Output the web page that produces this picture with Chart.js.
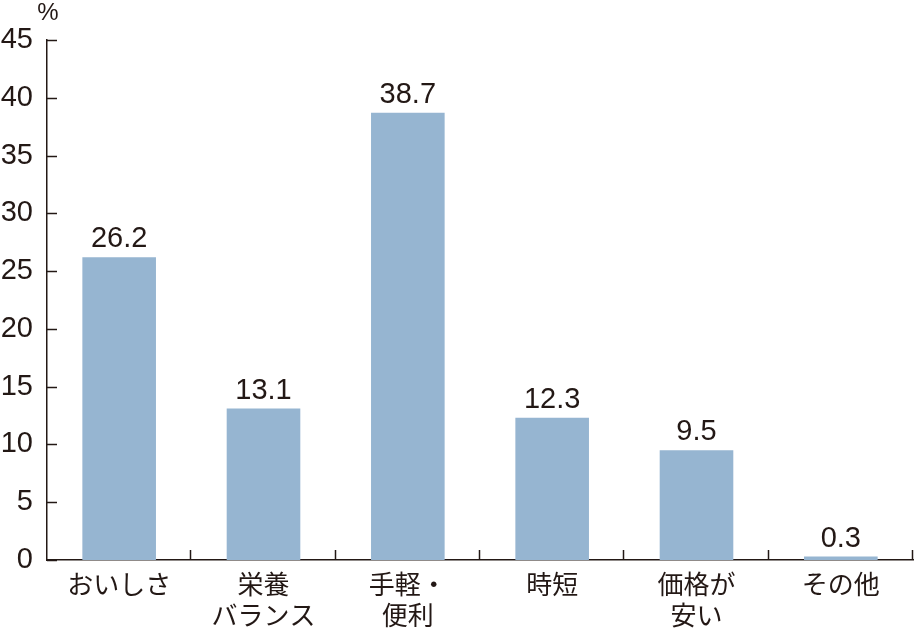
<!DOCTYPE html>
<html>
<head>
<meta charset="utf-8">
<script src="https://cdn.jsdelivr.net/npm/chart.js@4/dist/chart.umd.min.js"></script>
<style>
  html, body { margin: 0; padding: 0; background: #fff; }
  #wrap { width: 914px; height: 630px; position: relative; }
</style>
</head>
<body>
<div id="wrap"><canvas id="chart"></canvas></div>
<script>
const categories = [
  ['おいしさ'],
  ['栄養', 'バランス'],
  ['手軽・', '便利'],
  ['時短'],
  ['価格が', '安い'],
  ['その他']
];
const values = [26.2, 13.1, 38.7, 12.3, 9.5, 0.3];
const yMax = 45;
const yStep = 5;
const unitLabel = '%';

const axisColor = '#231815';
const numFont = '"Liberation Sans", Arial, sans-serif';
const jpFont = '"Noto Sans CJK JP", sans-serif';

// value labels, "%" and the inward tick marks
const extras = {
  id: 'extras',
  afterDatasetsDraw(chart) {
    const ctx = chart.ctx;
    const x = chart.scales.x, y = chart.scales.y;
    const area = chart.chartArea;
    ctx.save();
    ctx.strokeStyle = axisColor;
    ctx.lineWidth = 1.5;
    // y ticks pointing right
    for (let v = 0; v <= yMax; v += yStep) {
      const py = Math.round(y.getPixelForValue(v)) + 0.5;
      ctx.beginPath();
      ctx.moveTo(area.left, py);
      ctx.lineTo(area.left + 10, py);
      ctx.stroke();
    }
    // x ticks at category boundaries pointing up
    const n = categories.length;
    const w = (area.right - area.left) / n;
    for (let i = 1; i <= n; i++) {
      const px = Math.round(area.left + i * w) - 0.5;
      ctx.beginPath();
      ctx.moveTo(px, area.bottom);
      ctx.lineTo(px, area.bottom - 10);
      ctx.stroke();
    }
    // values above bars
    ctx.fillStyle = axisColor;
    ctx.font = '29px ' + numFont;
    ctx.textAlign = 'center';
    ctx.textBaseline = 'alphabetic';
    const meta = chart.getDatasetMeta(0);
    meta.data.forEach((bar, i) => {
      ctx.fillText(values[i].toFixed(1), bar.x, bar.y - 10);
    });
    // unit
    ctx.font = '24px ' + numFont;
    ctx.textAlign = 'center';
    ctx.textBaseline = 'alphabetic';
    ctx.fillText(unitLabel, area.left + 1, 20);
    ctx.restore();
  }
};

new Chart(document.getElementById('chart'), {
  type: 'bar',
  data: {
    labels: categories,
    datasets: [{
      data: values,
      backgroundColor: '#96B5D1',
      borderWidth: 0,
      barPercentage: 0.51,
      categoryPercentage: 1.0
    }]
  },
  options: {
    responsive: true,
    maintainAspectRatio: false,
    animation: false,
    layout: { padding: { left: 0, right: 1, top: 40, bottom: 0 } },
    plugins: {
      legend: { display: false },
      tooltip: { enabled: false }
    },
    scales: {
      x: {
        grid: { display: false, drawTicks: false },
        border: { display: true, color: axisColor, width: 1.5 },
        ticks: {
          color: axisColor,
          font: { family: jpFont, size: 26, lineHeight: 1.17 },
          padding: 9,
          maxRotation: 0,
          autoSkip: false
        },
        afterFit(scale) { scale.height = 70; }
      },
      y: {
        min: 0,
        max: yMax,
        grid: { display: false, drawTicks: false },
        border: { display: true, color: axisColor, width: 1.5 },
        ticks: {
          stepSize: yStep,
          color: axisColor,
          font: { family: numFont, size: 29 },
          padding: 14
        },
        afterFit(scale) { scale.width = 47; }
      }
    }
  },
  plugins: [extras]
});
</script>
</body>
</html>
